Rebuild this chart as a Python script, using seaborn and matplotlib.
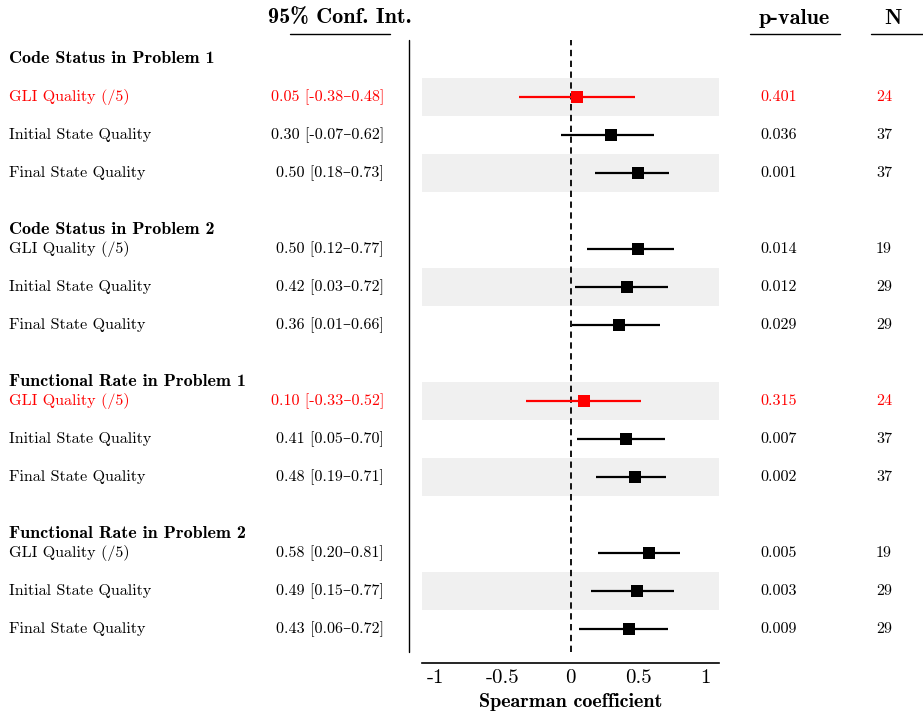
import matplotlib
matplotlib.use("Agg")
import numpy as np
import pandas as pd
import matplotlib.pyplot as plt
import seaborn as sns
from matplotlib.lines import Line2D
from matplotlib.transforms import blended_transform_factory

groups = ["Code Status in Problem 1", "Code Status in Problem 2",
          "Functional Rate in Problem 1", "Functional Rate in Problem 2"]
measures = ["GLI Quality (/5)", "Initial State Quality", "Final State Quality"]

rho = [0.05, 0.30, 0.50, 0.50, 0.42, 0.36, 0.10, 0.41, 0.48, 0.58, 0.49, 0.43]
ci_low = [-0.38, -0.07, 0.18, 0.12, 0.03, 0.01, -0.33, 0.05, 0.19, 0.20, 0.15, 0.06]
ci_high = [0.48, 0.62, 0.73, 0.77, 0.72, 0.66, 0.52, 0.70, 0.71, 0.81, 0.77, 0.72]
p_values = [0.401, 0.036, 0.001, 0.014, 0.012, 0.029, 0.315, 0.007, 0.002, 0.005, 0.003, 0.009]
n_obs = [24, 37, 37, 19, 29, 29, 24, 37, 37, 19, 29, 29]
xticks = [-1, -0.5, 0, 0.5, 1]
xtick_labels = ["-1", "-0.5", "0", "0.5", "1"]

df = pd.DataFrame({
    "group": np.repeat(groups, 3),
    "measure": measures * 4,
    "rho": rho, "lo": ci_low, "hi": ci_high, "p": p_values, "n": n_obs,
})
df["gi"] = np.repeat(np.arange(4), 3)
df["ypos"] = df["gi"] * 4 + np.tile(np.arange(3), 4)
df["sig"] = df["p"] < 0.05
df["color"] = np.where(df["sig"], "black", "red")

sns.set_style("white")
plt.rcParams["font.family"] = ["cmr10", "DejaVu Serif"]
plt.rcParams["axes.unicode_minus"] = False
plt.rcParams["mathtext.fontset"] = "cm"
plt.rcParams["text.color"] = "black"
plt.rcParams["axes.labelcolor"] = "black"
plt.rcParams["xtick.color"] = "black"
bold = ["cmb10", "DejaVu Serif"]

W, H = 923, 716
fig = plt.figure(figsize=(W / 100, H / 100), dpi=100)
ax = fig.add_axes([422 / W, 1 - 663 / H, (719 - 422) / W, (663 - 40) / H])

for i, y in enumerate(df["ypos"]):
    if i % 2 == 0:
        ax.axhspan(y - 0.5, y + 0.5, color="#f0f0f0", lw=0, zorder=0)

ax.axvline(0, ymin=0.018, ymax=1, color="black", lw=1.3, ls=(0, (3.5, 2.5)), zorder=1)
ax.hlines(df["ypos"], df["lo"], df["hi"], colors=df["color"], lw=1.6, zorder=2)
sns.scatterplot(data=df, x="rho", y="ypos", hue="sig", palette={True: "black", False: "red"},
                marker="s", s=75, linewidth=0, legend=False, ax=ax, zorder=3)

ax.set_xlim(-1.1, 1.1)
ax.set_ylim(14.9, -1.5)
ax.set_yticks([])
ax.set_ylabel("")
for side in ["left", "top", "right"]:
    ax.spines[side].set_visible(False)
ax.spines["bottom"].set_linewidth(1.2)
ax.spines["bottom"].set_color("black")
ax.set_xticks(xticks)
ax.set_xticklabels(xtick_labels, fontsize=15)
ax.tick_params(axis="x", direction="inout", length=5, width=2.2, pad=2)
ax.set_xlabel("Spearman coefficient", fontsize=14.5, family=bold, labelpad=4)

tr = blended_transform_factory(fig.transFigure, ax.transData)
for _, r in df.iterrows():
    c = r["color"]
    ax.text(9 / W, r["ypos"], r["measure"], transform=tr, ha="left", va="center",
            fontsize=11.6, color=c)
    ax.text(384 / W, r["ypos"], f"{r['rho']:.2f} [{r['lo']:.2f}–{r['hi']:.2f}]",
            transform=tr, ha="right", va="center", fontsize=11.6, color=c)
    ax.text(760 / W, r["ypos"], f"{r['p']:.3f}", transform=tr, ha="left", va="center",
            fontsize=11.6, color=c)
    ax.text(876 / W, r["ypos"], f"{r['n']}", transform=tr, ha="left", va="center",
            fontsize=11.6, color=c)

for gi, g in enumerate(groups):
    gy = -1.0 if gi == 0 else gi * 4 - 0.5
    ax.text(9 / W, gy, g, transform=tr, ha="left", va="center", fontsize=13, family=bold)

# column headers
for label, cx, x0, x1 in [("95% Conf. Int.", 340, 290, 390), ("p-value", 794, 750, 840),
                          ("N", 893, 871, 923)]:
    fig.text(cx / W, 1 - 18 / H, label, ha="center", va="center", fontsize=16, family=bold)
    fig.add_artist(Line2D([x0 / W, x1 / W], [1 - 34 / H] * 2, color="black", lw=1))

fig.add_artist(Line2D([409 / W] * 2, [1 - 40 / H, 1 - 652 / H], color="black", lw=1))

fig.savefig("out.png", dpi=100)
